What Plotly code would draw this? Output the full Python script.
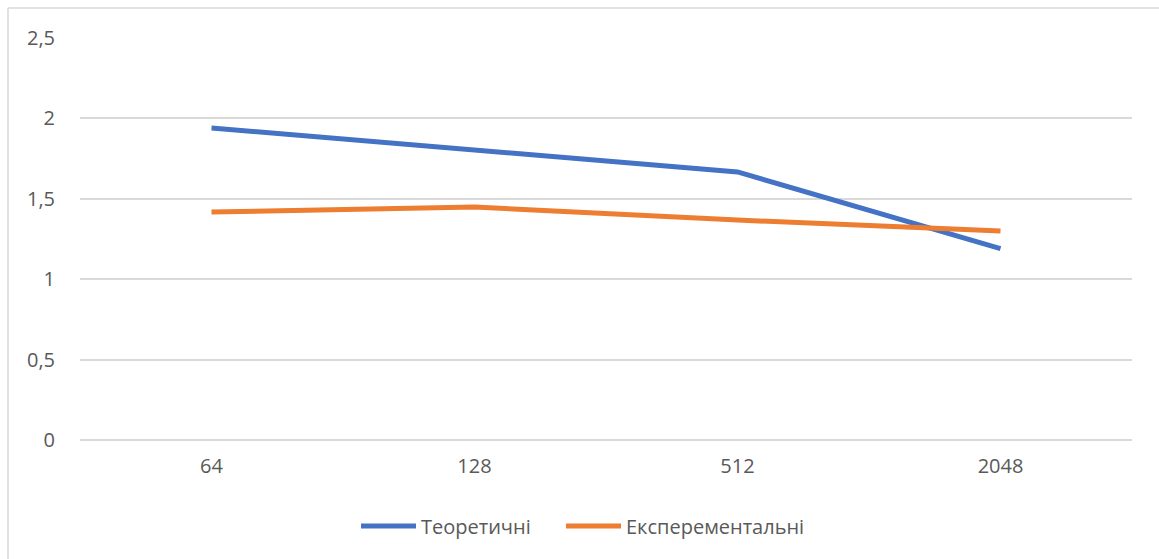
import plotly.graph_objects as go

categories = ["64", "128", "512", "2048"]
theoretical = [1.94, 1.80, 1.667, 1.19]
experimental = [1.418, 1.449, 1.368, 1.30]

W, H = 1159, 559
ml, mr, mt, mb = 80, 27, 38, 119
pw, ph = W - ml - mr, H - mt - mb

fig = go.Figure()
fig.add_trace(go.Scatter(x=categories, y=theoretical, mode="lines", name="Теоретичні",
                         line=dict(color="#4472C4", width=5), legend="legend"))
fig.add_trace(go.Scatter(x=categories, y=experimental, mode="lines", name="Експерементальні",
                         line=dict(color="#ED7D31", width=5), legend="legend2"))

font = dict(family="Open Sans, Liberation Sans, sans-serif", size=20, color="#595959")

# outer chart frame (top and left edges)
bx = (8 - ml) / pw
by = 1 + (mt - 8) / ph
fig.add_shape(type="line", xref="paper", yref="paper", x0=bx, x1=(W - ml) / pw, y0=by, y1=by,
              line=dict(color="#d9d9d9", width=1.5))
fig.add_shape(type="line", xref="paper", yref="paper", x0=bx, x1=bx, y0=by, y1=-(mb) / ph - 0.01,
              line=dict(color="#d9d9d9", width=1.5))

legend_y = (440 - 526) / ph
fig.update_layout(
    width=W, height=H,
    margin=dict(l=ml, r=mr, t=mt, b=mb),
    paper_bgcolor="white", plot_bgcolor="white",
    separators=", ",
    font=font,
    showlegend=True,
    legend=dict(orientation="h", x=(356 - ml) / pw, xanchor="left", y=legend_y,
                yanchor="middle", font=font, itemwidth=55),
    legend2=dict(orientation="h", x=(561 - ml) / pw, xanchor="left", y=legend_y,
                 yanchor="middle", font=font, itemwidth=55),
    xaxis=dict(type="category", range=[-0.5, 3.5], showgrid=False, showline=False,
               ticks="", ticklabelstandoff=12, tickfont=font, zeroline=False),
    yaxis=dict(range=[0, 2.5], dtick=0.5, tick0=0, showgrid=True, gridcolor="#d9d9d9",
               gridwidth=1.5, zeroline=True, zerolinecolor="#d9d9d9", zerolinewidth=1.5,
               showline=False, ticks="", ticklabelstandoff=24, tickfont=font,
               tickformat=".1~f"),
)

fig.write_html("out.html")
